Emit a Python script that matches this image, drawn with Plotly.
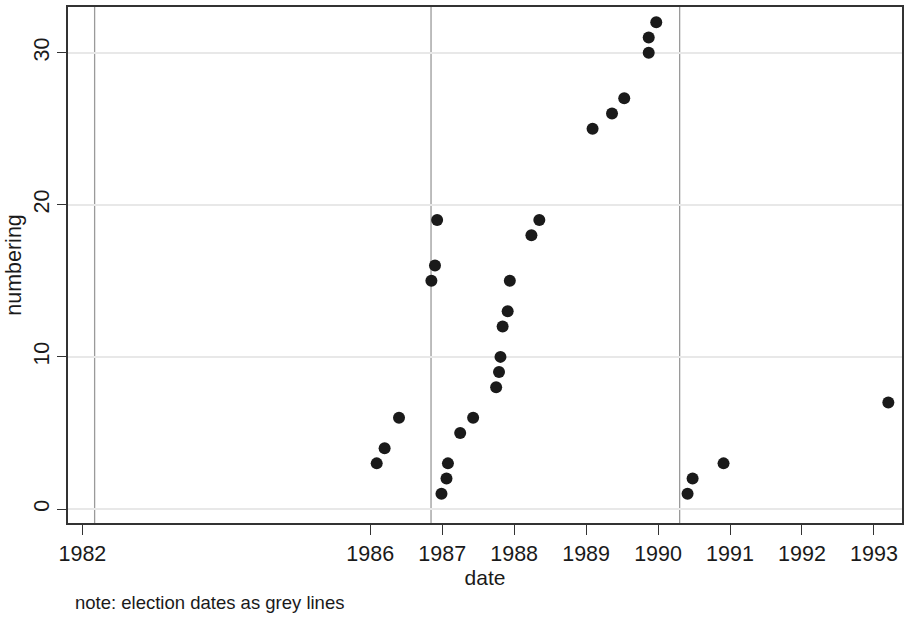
import plotly.graph_objects as go

# data
dates = [1986.09, 1986.20, 1986.40, 1986.85, 1986.90, 1986.93, 1986.99, 1987.06, 1987.08,
         1987.25, 1987.43, 1987.75, 1987.79, 1987.81, 1987.84, 1987.91, 1987.94, 1988.24,
         1988.35, 1989.09, 1989.36, 1989.53, 1989.87, 1989.87, 1989.975, 1990.41, 1990.48,
         1990.91, 1993.20]
numbering = [3, 4, 6, 15, 16, 19, 1, 2, 3,
             5, 6, 8, 9, 10, 12, 13, 15, 18,
             19, 25, 26, 27, 30, 31, 32, 1, 2,
             3, 7]
election_dates = [1982.17, 1986.845, 1990.30]
x_tickvals = [1982, 1986, 1987, 1988, 1989, 1990, 1991, 1992, 1993]
y_tickvals = [0, 10, 20, 30]

FONT = "Arial, Liberation Sans, sans-serif"

fig = go.Figure()
fig.add_trace(go.Scatter(
    x=dates, y=numbering, mode="markers",
    marker=dict(color="#1a1a1a", size=12, line=dict(width=0)),
    showlegend=False, hoverinfo="x+y"))

for d in election_dates:
    fig.add_shape(type="line", xref="x", yref="paper", x0=d, x1=d, y0=0, y1=1,
                  line=dict(color="#9a9a9a", width=1.3), layer="below")

fig.update_layout(
    width=909, height=617,
    margin=dict(l=68, r=5, t=5, b=94),
    paper_bgcolor="white", plot_bgcolor="white",
    font=dict(family=FONT, color="#1a1a1a"),
    xaxis=dict(
        range=[1981.80, 1993.39], tickmode="array", tickvals=x_tickvals,
        ticktext=[str(v) for v in x_tickvals],
        showgrid=False, zeroline=False,
        showline=True, linecolor="#333333", linewidth=1.5, mirror=True,
        ticks="outside", ticklen=10, tickwidth=1.3, tickcolor="#333333",
        tickfont=dict(size=21.5, family=FONT, color="#1a1a1a"),
        title=dict(text="date", font=dict(size=21, family=FONT, color="#1a1a1a"), standoff=0),
    ),
    yaxis=dict(
        range=[-0.92, 33.0], tickmode="array", tickvals=y_tickvals,
        showgrid=True, gridcolor="#e8e8e8", gridwidth=1.5, zeroline=False,
        showline=True, linecolor="#333333", linewidth=1.5, mirror=True,
        ticks="outside", ticklen=9, tickwidth=1.3, tickcolor="#333333",
        tickangle=-90,
        tickfont=dict(size=21.5, family=FONT, color="#1a1a1a"),
        title=dict(text="numbering", font=dict(size=21.5, family=FONT, color="#1a1a1a"), standoff=2),
    ),
    annotations=[dict(
        text="note: election dates as grey lines", xref="paper", yref="paper",
        x=0.006, y=-0.154, xanchor="left", yanchor="middle", showarrow=False,
        font=dict(size=18.5, family=FONT, color="#1a1a1a"))],
)

fig.write_html("out.html", config={"displayModeBar": False},
               post_script="document.body.style.margin='0';document.body.style.padding='0';")
